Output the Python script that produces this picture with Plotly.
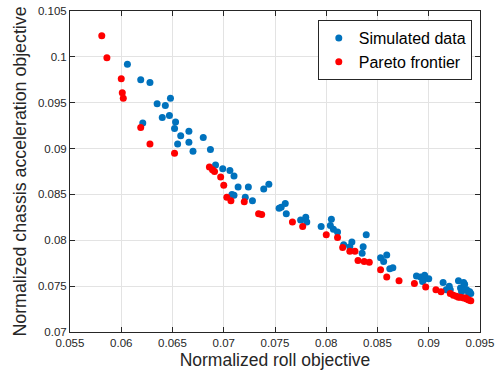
import plotly.graph_objects as go

sim_x = [0.0606, 0.0619, 0.0621, 0.0628, 0.0635, 0.0640, 0.0643, 0.0647, 0.0648, 0.0652,
         0.0653, 0.0655, 0.0658, 0.0666, 0.0666, 0.0670, 0.0680, 0.0687, 0.0692, 0.0699,
         0.0706, 0.0708, 0.0710, 0.0710, 0.0714, 0.0721, 0.0724, 0.0728, 0.0739, 0.0744,
         0.0754, 0.0756, 0.0760, 0.0761, 0.0775, 0.0780, 0.0781, 0.0795, 0.0804, 0.0805,
         0.0807, 0.0811, 0.0817, 0.0823, 0.0825, 0.0835, 0.0836, 0.0839, 0.0853, 0.0856,
         0.0859, 0.0862, 0.0865, 0.0888, 0.0892, 0.0894, 0.0895, 0.0896, 0.0900, 0.0914,
         0.0917, 0.0920, 0.0921, 0.0929, 0.0931, 0.0932, 0.0934, 0.0935, 0.0935, 0.0937,
         0.0939, 0.0939, 0.0940, 0.0941]
sim_y = [0.0992, 0.0975, 0.0928, 0.0972, 0.0949, 0.0934, 0.0947, 0.0936, 0.0955, 0.0922,
         0.0929, 0.0905, 0.0914, 0.0919, 0.0907, 0.0897, 0.0912, 0.0899, 0.0882, 0.0878,
         0.0876, 0.0850, 0.0870, 0.0849, 0.0858, 0.0847, 0.0858, 0.0843, 0.0856, 0.0861,
         0.0835, 0.0836, 0.0840, 0.0829, 0.0822, 0.0825, 0.0820, 0.0815, 0.0816, 0.0823,
         0.0812, 0.0809, 0.0795, 0.0793, 0.0798, 0.0786, 0.0793, 0.0806, 0.0781, 0.0777,
         0.0784, 0.0769, 0.0770, 0.0761, 0.0760, 0.0755, 0.0757, 0.0762, 0.0758, 0.0754,
         0.0746, 0.0750, 0.0746, 0.0756, 0.0748, 0.0744, 0.0754, 0.0752, 0.0746, 0.0746,
         0.0742, 0.0744, 0.0744, 0.0742]

par_x = [0.0581, 0.0586, 0.0600, 0.0601, 0.0602, 0.0619, 0.0628, 0.0652, 0.0686, 0.0689,
         0.0691, 0.0697, 0.0700, 0.0703, 0.0707, 0.0720, 0.0734, 0.0737, 0.0767, 0.0777,
         0.0800, 0.0811, 0.0816, 0.0823, 0.0828, 0.0831, 0.0837, 0.0842, 0.0853, 0.0859,
         0.0871, 0.0886, 0.0897, 0.0907, 0.0912, 0.0921, 0.0924, 0.0927, 0.0929, 0.0931,
         0.0934, 0.0936, 0.0937, 0.0939, 0.0941]
par_y = [0.1023, 0.0999, 0.0976, 0.0961, 0.0955, 0.0923, 0.0905, 0.0895, 0.0880, 0.0877,
         0.0875, 0.0869, 0.0860, 0.0847, 0.0843, 0.0842, 0.0829, 0.0828, 0.0820, 0.0815,
         0.0806, 0.0803, 0.0792, 0.0788, 0.0788, 0.0778, 0.0777, 0.0776, 0.0768, 0.0760,
         0.0756, 0.0753, 0.0749, 0.0746, 0.0744, 0.0742, 0.0740, 0.0739, 0.0738, 0.0738,
         0.0737, 0.0737, 0.0736, 0.0735, 0.0734]

x_ticks = [0.055, 0.06, 0.065, 0.07, 0.075, 0.08, 0.085, 0.09, 0.095]
x_labels = ["0.055", "0.06", "0.065", "0.07", "0.075", "0.08", "0.085", "0.09", "0.095"]
y_ticks = [0.07, 0.075, 0.08, 0.085, 0.09, 0.095, 0.1, 0.105]
y_labels = ["0.07", "0.075", "0.08", "0.085", "0.09", "0.095", "0.1", "0.105"]

AX = "#262626"
FONT = "Liberation Sans, Arial, sans-serif"

fig = go.Figure()
fig.add_trace(go.Scatter(x=sim_x, y=sim_y, mode="markers", name="Simulated data",
                         marker=dict(color="#0072BD", size=7)))
fig.add_trace(go.Scatter(x=par_x, y=par_y, mode="markers", name="Pareto frontier",
                         marker=dict(color="#FF0000", size=7)))

axis_common = dict(showline=True, linecolor=AX, linewidth=1, mirror="ticks",
                   ticks="inside", ticklen=5, tickcolor=AX, showgrid=True,
                   gridcolor="#e3e3e3", gridwidth=1, zeroline=False, automargin=False,
                   ticklabeloverflow="allow",
                   tickfont=dict(size=11.5, color=AX, family=FONT))

fig.update_xaxes(range=[0.055, 0.095], tickvals=x_ticks, ticktext=x_labels,
                 title=dict(text="Normalized roll objective",
                            font=dict(size=17.5, color=AX, family=FONT), standoff=5),
                 **axis_common)
fig.update_yaxes(range=[0.07, 0.105], tickvals=y_ticks, ticktext=y_labels,
                 title=dict(text="Normalized chassis acceleration objective",
                            font=dict(size=17.8, color=AX, family=FONT), standoff=6),
                 **axis_common)

fig.update_layout(
    width=500, height=376,
    margin=dict(l=70, r=20, t=11, b=44),
    paper_bgcolor="white", plot_bgcolor="white",
    font=dict(family=FONT, color=AX),
    legend=dict(x=0.98, y=0.972, xanchor="right", yanchor="top",
                bordercolor=AX, borderwidth=1, bgcolor="white",
                font=dict(size=16, color="black", family=FONT),
                tracegroupgap=0),
    showlegend=True,
)

fig.write_html("out.html", config={"displayModeBar": False},
               post_script="document.body.style.margin='0';document.body.style.overflow='hidden';")
